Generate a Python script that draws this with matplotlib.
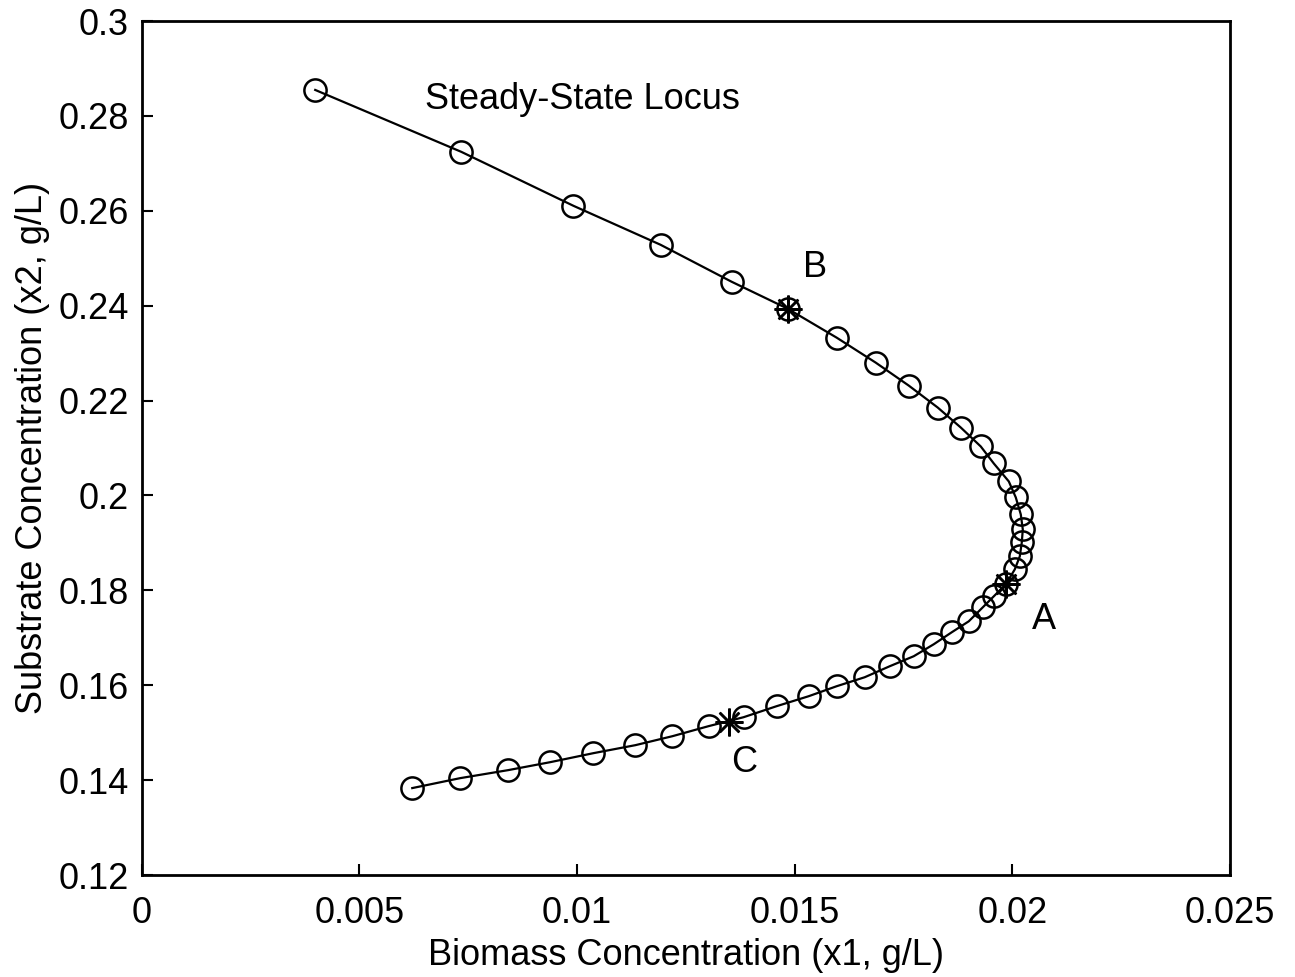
import matplotlib
matplotlib.use("Agg")
import matplotlib.pyplot as plt
from matplotlib.ticker import FuncFormatter

plt.rcParams['font.family'] = ['Liberation Sans', 'DejaVu Sans']

# Steady-state locus points (biomass x1, substrate x2)
x1 = [0.003989, 0.007345, 0.009920, 0.011920, 0.013552, 0.014839, 0.015966,
      0.016862, 0.017621, 0.018287, 0.018816, 0.019276, 0.019575, 0.019920,
      0.020080, 0.020195, 0.020241, 0.020218, 0.020172, 0.020057, 0.019851,
      0.019575, 0.019322, 0.019000, 0.018609, 0.018195, 0.017736, 0.017184,
      0.016609, 0.015966, 0.015322, 0.014586, 0.013828, 0.013023, 0.012195,
      0.011345, 0.010379, 0.009391, 0.008425, 0.007322, 0.006218]
x2 = [0.28547, 0.27242, 0.26105, 0.25284, 0.24505, 0.23937, 0.23326,
      0.22800, 0.22316, 0.21853, 0.21432, 0.21032, 0.20674, 0.20295,
      0.19958, 0.19600, 0.19284, 0.19011, 0.18716, 0.18442, 0.18126,
      0.17874, 0.17642, 0.17347, 0.17116, 0.16863, 0.16611, 0.16400,
      0.16168, 0.15979, 0.15768, 0.15558, 0.15326, 0.15137, 0.14926,
      0.14737, 0.14568, 0.14379, 0.14211, 0.14042, 0.13832]

# Operating points A, B, C
pt_labels = ["A", "B", "C"]
pt_x1 = [0.01985, 0.01484, 0.013483]
pt_x2 = [0.18126, 0.23937, 0.15221]
lbl_x1 = [0.02073, 0.01548, 0.01385]
lbl_x2 = [0.1739, 0.2480, 0.1438]

xticks = [0, 0.005, 0.01, 0.015, 0.02, 0.025]
yticks = [0.12, 0.14, 0.16, 0.18, 0.2, 0.22, 0.24, 0.26, 0.28, 0.3]

FS = 26

fig = plt.figure(figsize=(12.95, 9.77), dpi=100)
ax = fig.add_axes([0.1093, 0.1044, 0.8405, 0.8741])

ax.plot(x1, x2, '-', color='black', lw=1.6, marker='o', ms=16,
        mfc='none', mec='black', mew=1.8)
ax.plot(pt_x1, pt_x2, linestyle='none', marker=(8, 2, 0), ms=20,
        color='black', mew=1.8)

for t, lx, ly in zip(pt_labels, lbl_x1, lbl_x2):
    ax.text(lx, ly, t, fontsize=FS, ha='center', va='center')
ax.text(0.00650, 0.2834, "Steady-State Locus", fontsize=FS, ha='left', va='center')

ax.set_xlim(0, 0.025)
ax.set_ylim(0.12, 0.3)
ax.set_xticks(xticks)
ax.set_yticks(yticks)
fmt = FuncFormatter(lambda v, p: ('%g' % round(v, 6)))
ax.xaxis.set_major_formatter(fmt)
ax.yaxis.set_major_formatter(fmt)
ax.tick_params(direction='in', length=8, width=1.5, labelsize=FS)
ax.tick_params(axis='x', pad=15)
ax.tick_params(axis='y', pad=9)
for s in ax.spines.values():
    s.set_linewidth(2)

ax.set_xlabel("Biomass Concentration (x1, g/L)", fontsize=FS, labelpad=5)
ax.set_ylabel("Substrate Concentration (x2, g/L)", fontsize=FS, labelpad=6)

fig.savefig("out.png", dpi=100)
